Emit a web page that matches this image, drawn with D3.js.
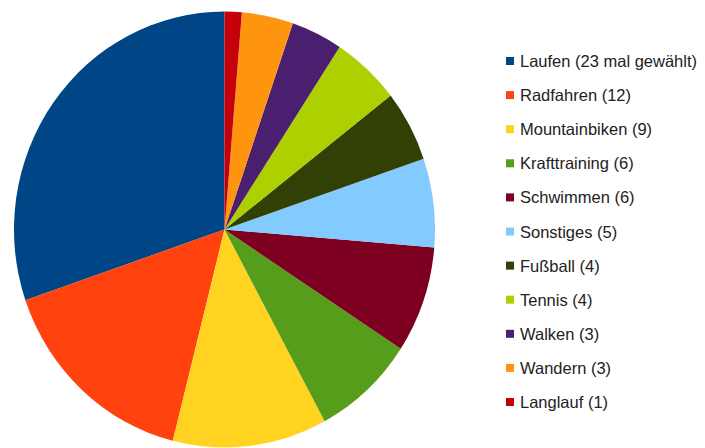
<!DOCTYPE html>
<html>
<head>
<meta charset="utf-8">
<script src="https://cdn.jsdelivr.net/npm/d3@7"></script>
<style>
  html, body { margin: 0; padding: 0; background: #ffffff; }
  svg { display: block; }
</style>
</head>
<body>
<svg id="chart" width="705" height="448"></svg>
<script>
// Sportarten und wie oft sie gewählt wurden
const categories = ["Laufen", "Radfahren", "Mountainbiken", "Krafttraining", "Schwimmen",
  "Sonstiges", "Fußball", "Tennis", "Walken", "Wandern", "Langlauf"];
const counts = [23, 12, 9, 6, 6, 5, 4, 4, 3, 3, 1];
const legendLabels = ["Laufen (23 mal gewählt)", "Radfahren (12)", "Mountainbiken (9)",
  "Krafttraining (6)", "Schwimmen (6)", "Sonstiges (5)", "Fußball (4)", "Tennis (4)",
  "Walken (3)", "Wandern (3)", "Langlauf (1)"];
const colors = ["#004586", "#ff420e", "#ffd320", "#579d1c", "#7e0021", "#83caff",
  "#314004", "#aecf00", "#4b1f6f", "#ff950e", "#c5000b"];

const svg = d3.select("#chart");

const data = categories.map((c, i) => ({ name: c, value: counts[i], label: legendLabels[i] }));
const color = d3.scaleOrdinal().domain(categories).range(colors);

// Pie, counter-clockwise from 12 o'clock
const pie = d3.pie().value(d => d.value).sort(null).startAngle(0).endAngle(-2 * Math.PI);
const rx = 210.5, ry = 218;
const arc = d3.arc().innerRadius(0).outerRadius(rx);

const g = svg.append("g")
  .attr("transform", `translate(224.5,229.5) scale(1,${ry / rx})`);

g.selectAll("path")
  .data(pie(data))
  .join("path")
  .attr("d", arc)
  .attr("fill", d => color(d.data.name));

// Legend
const legendY = d3.scalePoint().domain(categories).range([61, 402]);
const legend = svg.append("g");
const rows = legend.selectAll("g")
  .data(data)
  .join("g")
  .attr("transform", d => `translate(506,${legendY(d.name)})`);

rows.append("rect")
  .attr("x", 0).attr("y", -4)
  .attr("width", 8).attr("height", 8)
  .attr("fill", d => color(d.name));

rows.append("text")
  .attr("x", 14).attr("y", 6)
  .attr("font-family", "'Liberation Sans', Arial, sans-serif")
  .attr("font-size", 16.5)
  .attr("fill", "#222")
  .text(d => d.label);
</script>
</body>
</html>
